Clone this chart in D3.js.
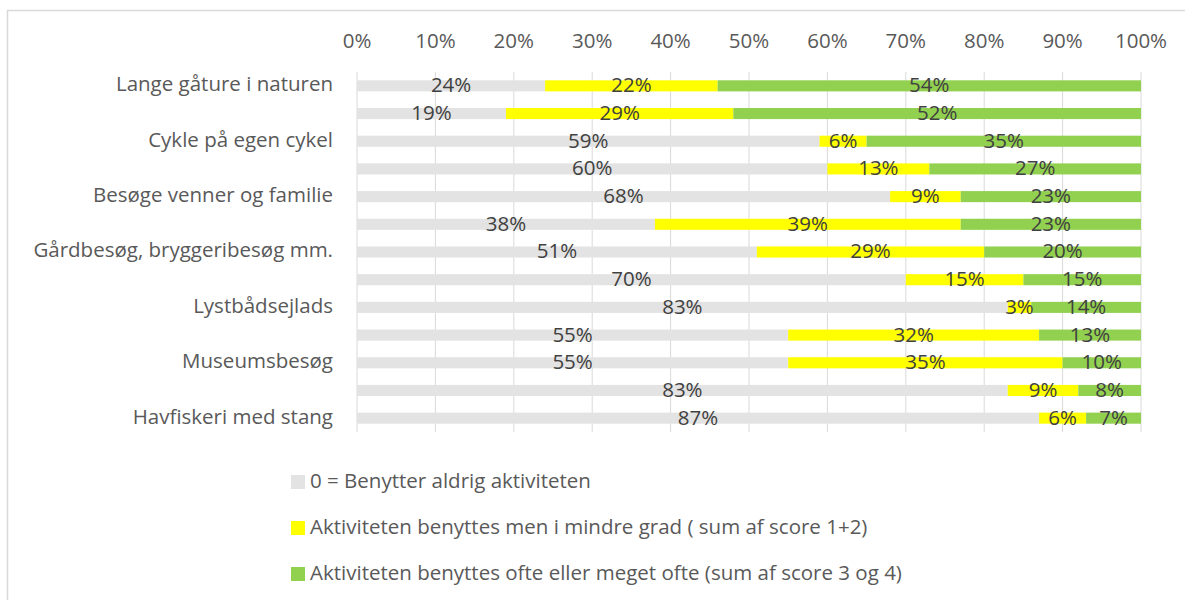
<!DOCTYPE html>
<html>
<head>
<meta charset="utf-8">
<script src="https://cdn.jsdelivr.net/npm/d3@7"></script>
<style>
  body { margin: 0; background: #fff; }
  text { font-family: "Open Sans", Lato, sans-serif; }
</style>
</head>
<body>
<div id="chart"></div>
<script>
// categories (Excel only shows every other label, the rest are unnamed)
const categories = [
  "Lange gåture i naturen", "",
  "Cykle på egen cykel", "",
  "Besøge venner og familie", "",
  "Gårdbesøg, bryggeribesøg mm.", "",
  "Lystbådsejlads", "",
  "Museumsbesøg", "",
  "Havfiskeri med stang"
];
const neverVals = [24, 19, 59, 60, 68, 38, 51, 70, 83, 55, 55, 83, 87];
const lessVals  = [22, 29, 6, 13, 9, 39, 29, 15, 3, 32, 35, 9, 6];
const ofteVals  = [54, 52, 35, 27, 23, 23, 20, 15, 14, 13, 10, 8, 7];
const seriesNames = [
  "0 = Benytter aldrig aktiviteten",
  "Aktiviteten benyttes men i mindre grad ( sum af score 1+2)",
  "Aktiviteten benyttes ofte eller meget ofte (sum af score 3 og 4)"
];
const xTicks = [0, 10, 20, 30, 40, 50, 60, 70, 80, 90, 100];

const W = 1185, H = 600;
const colors = ["#e3e3e3", "#ffff00", "#92d050"];
const fs = "20.5px";

const svg = d3.select("#chart").append("svg")
  .attr("width", W).attr("height", H);

// chart border
svg.append("rect")
  .attr("x", 7.5).attr("y", 10.5)
  .attr("width", W + 10).attr("height", H + 10)
  .attr("fill", "none").attr("stroke", "#d9d9d9").attr("stroke-width", 1.5);

const x = d3.scaleLinear().domain([0, 100]).range([357, 1141]);
const y = d3.scaleBand()
  .domain(d3.range(categories.length))
  .range([72, 432])
  .paddingInner(0.6).paddingOuter(0.3);

// gridlines
svg.append("g").selectAll("line")
  .data(xTicks).enter().append("line")
    .attr("x1", d => x(d)).attr("x2", d => x(d))
    .attr("y1", 72).attr("y2", 432)
    .attr("stroke", "#d9d9d9").attr("stroke-width", 1);

// top tick labels
svg.append("g").selectAll("text")
  .data(xTicks).enter().append("text")
    .attr("x", d => x(d)).attr("y", 43)
    .attr("text-anchor", "middle").attr("dominant-baseline", "middle")
    .style("font-size", fs).style("fill", "#595959")
    .text(d => d + "%");

// category labels
svg.append("g").selectAll("text")
  .data(categories).enter().append("text")
    .attr("x", 333).attr("y", (d, i) => y(i) + y.bandwidth() / 2)
    .attr("text-anchor", "end").attr("dominant-baseline", "middle")
    .style("font-size", fs).style("fill", "#595959")
    .text(d => d);

// stack the series
const rows = categories.map((c, i) => ({ i, a: neverVals[i], b: lessVals[i], c: ofteVals[i] }));
const stacked = d3.stack().keys(["a", "b", "c"])(rows);

const layer = svg.append("g").selectAll("g")
  .data(stacked).enter().append("g")
    .attr("fill", (d, k) => colors[k]);

layer.selectAll("rect")
  .data(d => d).enter().append("rect")
    .attr("x", d => x(d[0]))
    .attr("y", d => y(d.data.i))
    .attr("width", d => x(d[1]) - x(d[0]))
    .attr("height", y.bandwidth());

// data labels in the middle of each segment
svg.append("g").selectAll("g")
  .data(stacked).enter().append("g")
  .selectAll("text")
  .data(d => d).enter().append("text")
    .attr("x", d => x((d[0] + d[1]) / 2))
    .attr("y", d => y(d.data.i) + y.bandwidth() / 2 + 1)
    .attr("text-anchor", "middle").attr("dominant-baseline", "middle")
    .style("font-size", fs).style("fill", "#404040")
    .text(d => (d[1] - d[0]) + "%");

// legend
const legend = svg.append("g").selectAll("g")
  .data(seriesNames).enter().append("g")
    .attr("transform", (d, i) => `translate(291, ${482 + i * 46})`);

legend.append("rect")
  .attr("x", 0).attr("y", -7)
  .attr("width", 14).attr("height", 14)
  .attr("fill", (d, i) => colors[i]);

legend.append("text")
  .attr("x", 19).attr("y", 1)
  .attr("dominant-baseline", "middle")
  .style("font-size", fs).style("fill", "#595959")
  .text(d => d);
</script>
</body>
</html>
